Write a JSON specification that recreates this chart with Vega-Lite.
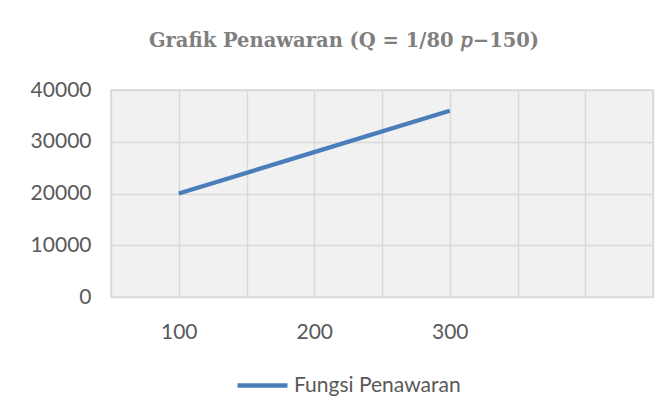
{
  "$schema": "https://vega.github.io/schema/vega-lite/v6.json",
  "width": 542,
  "height": 207,
  "autosize": {"type": "none"},
  "padding": {"left": 111, "top": 90, "right": 17, "bottom": 121},
  "background": "white",
  "title": {
    "text": "Grafik Penawaran (Q = 1/80 𝑝−150)",
    "font": "DejaVu Serif",
    "fontSize": 19.5,
    "fontWeight": "bold",
    "color": "#7f7f7f",
    "anchor": "middle",
    "dx": -38,
    "offset": 28
  },
  "data": {
    "values": [
      {"p": 100, "Q": 20000, "series": "Fungsi Penawaran"},
      {"p": 200, "Q": 28000, "series": "Fungsi Penawaran"},
      {"p": 300, "Q": 36000, "series": "Fungsi Penawaran"}
    ]
  },
  "mark": {"type": "line", "strokeWidth": 4.3, "strokeCap": "butt"},
  "encoding": {
    "x": {
      "field": "p",
      "type": "quantitative",
      "scale": {"domain": [50, 450], "nice": false, "zero": false},
      "axis": {
        "values": [50, 100, 150, 200, 250, 300, 350, 400, 450],
        "labelExpr": "(datum.value == 100 || datum.value == 200 || datum.value == 300) ? datum.label : ''",
        "title": null,
        "ticks": false,
        "domain": false,
        "gridColor": "#d9d9d9",
        "gridWidth": 1.5,
        "labelFont": "Lato",
        "labelFontSize": 21,
        "labelColor": "#595959",
        "labelPadding": 24,
        "labelOverlap": false
      }
    },
    "y": {
      "field": "Q",
      "type": "quantitative",
      "scale": {"domain": [0, 40000], "nice": false},
      "axis": {
        "values": [0, 10000, 20000, 30000, 40000],
        "format": "d",
        "title": null,
        "ticks": false,
        "domain": false,
        "gridColor": "#d9d9d9",
        "gridWidth": 1.5,
        "labelFont": "Lato",
        "labelFontSize": 21,
        "labelColor": "#595959",
        "labelPadding": 20
      }
    },
    "color": {
      "field": "series",
      "type": "nominal",
      "scale": {"range": ["#4a7ebb"]},
      "legend": {
        "title": null,
        "orient": "none",
        "legendX": 124,
        "legendY": 268,
        "symbolType": "stroke",
        "symbolSize": 2500,
        "symbolStrokeWidth": 4.3,
        "labelFont": "Lato",
        "labelFontSize": 21,
        "labelColor": "#595959",
        "labelLimit": 400
      }
    }
  },
  "config": {
    "view": {"fill": "#f1f1f1", "stroke": "#d9d9d9", "strokeWidth": 1.5}
  }
}
